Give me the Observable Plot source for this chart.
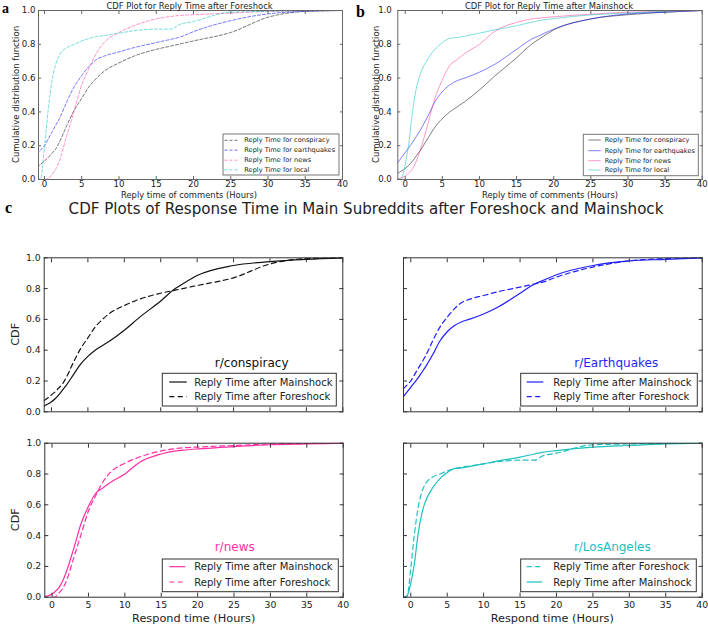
<!DOCTYPE html>
<html><head><meta charset="utf-8">
<script src="https://cdn.jsdelivr.net/npm/d3@7"></script>
<script src="https://cdn.jsdelivr.net/npm/@observablehq/plot@0.6"></script>
<style>
body{margin:0;background:#fff;}
#root{position:relative;width:708px;height:626px;overflow:hidden;background:#fff;font-family:"DejaVu Sans",sans-serif;}
#root > svg{position:absolute;background:none;}
</style></head><body><div id="root"></div>
<script>
// ---------- data ----------
const hours = [-1,-0.5,0,0.5,1,1.5,2,3,4,5,6,7,8,10,12,15,17,18,20,25,30,35,40];
const conspiracyMain  = [0.037,0.05,0.065,0.085,0.11,0.14,0.17,0.24,0.31,0.36,0.40,0.43,0.46,0.53,0.61,0.72,0.80,0.83,0.885,0.95,0.975,0.99,1.0];
const conspiracyFore  = [0.074,0.09,0.11,0.13,0.155,0.18,0.22,0.32,0.41,0.48,0.55,0.60,0.64,0.69,0.73,0.77,0.79,0.80,0.82,0.87,0.96,0.995,1.0];
const earthquakesMain = [0.10,0.13,0.16,0.19,0.22,0.255,0.29,0.37,0.46,0.52,0.56,0.585,0.60,0.635,0.68,0.77,0.83,0.85,0.89,0.95,0.98,0.99,1.0];
const earthquakesFore = [0.15,0.175,0.20,0.24,0.28,0.32,0.36,0.46,0.55,0.615,0.67,0.71,0.73,0.755,0.78,0.81,0.83,0.84,0.875,0.94,0.98,0.995,1.0];
const newsMain        = [0.005,0.01,0.02,0.04,0.065,0.11,0.17,0.32,0.48,0.59,0.675,0.71,0.745,0.80,0.875,0.93,0.95,0.955,0.963,0.978,0.99,0.995,1.0];
const newsFore        = [null,null,0,0.005,0.03,0.06,0.11,0.26,0.41,0.56,0.66,0.75,0.81,0.87,0.91,0.95,0.965,0.97,0.975,0.985,0.995,0.998,1.0];
const losAngelesMain  = [0,0.01,0.09,0.22,0.41,0.54,0.62,0.71,0.77,0.81,0.835,0.84,0.848,0.866,0.885,0.91,0.93,0.94,0.952,0.974,0.985,0.995,1.0];
const losAngelesFore  = [0,0.005,0.19,0.41,0.58,0.68,0.735,0.78,0.80,0.82,0.835,0.845,0.852,0.866,0.88,0.89,0.89,0.915,0.935,0.99,0.995,0.998,1.0];

const xTicks = [0,5,10,15,20,25,30,35,40];
const yTicks = [0,0.2,0.4,0.6,0.8,1.0];
const subredditNames = ["conspiracy","earthquakes","news","local"];
const subredditTitles = ["r/conspiracy","r/Earthquakes","r/news","r/LosAngeles"];
const lightColors = ["#000000","#0000ff","#ff3399","#00c0c0"];
const strongColors = ["#111111","#1f1fff","#ff2fa5","#20c0c0"];

// ---------- helpers ----------
const root = document.getElementById("root");
const FONT = '"DejaVu Sans", Verdana, sans-serif';
const fmt1 = d3.format(".1f");

function rows(values){ return hours.map((h,i)=>({h, p: values[i]})).filter(d => d.p != null); }

function panel(o){
  const marks = [
    ...o.lines.map(l => Plot.line(rows(l.values), {
      x:"h", y:"p", stroke:l.color, strokeOpacity:l.opacity ?? 1, strokeWidth:l.width,
      strokeDasharray:l.dash, curve:"monotone-x", clip:true
    })),
    Plot.frame({stroke:o.frame, strokeWidth:1}),
    Plot.axisX({anchor:"bottom", ticks:xTicks, tickSize:-o.tick, tickPadding:o.tick + o.xOff,
      tickFormat: o.showX ? (d => String(d)) : (() => ""), label:null, stroke:o.frame}),
    Plot.axisX({anchor:"top", ticks:xTicks, tickSize:-o.tick, tickPadding:0,
      tickFormat:() => "", label:null, stroke:o.frame}),
    Plot.axisY({anchor:"left", ticks:yTicks, tickSize:-o.tick, tickPadding:o.tick + o.yOff,
      tickFormat: o.showY ? fmt1 : (() => ""), label:null, stroke:o.frame}),
    Plot.axisY({anchor:"right", ticks:yTicks, tickSize:-o.tick, tickPadding:0,
      tickFormat:() => "", label:null, stroke:o.frame})
  ];
  const svg = Plot.plot({
    width:o.width, height:o.height,
    marginLeft:o.ml, marginRight:o.mr, marginTop:o.mt, marginBottom:o.mb,
    x:{domain:o.xDomain}, y:{domain:[0,1]},
    style:{fontSize:o.font+"px", fontFamily:FONT, color:"#222", background:"none", overflow:"visible"},
    marks
  });
  svg.style.left = o.left + "px";
  svg.style.top = o.top + "px";
  root.append(svg);
}

// ---------- panel a (foreshock) ----------
const foreSeries = [conspiracyFore, earthquakesFore, newsFore, losAngelesFore];
const mainSeries = [conspiracyMain, earthquakesMain, newsMain, losAngelesMain];

panel({left:0, top:0, width:354, height:200, ml:38, mr:12, mt:10, mb:21, xDomain:[-0.8,40],
  tick:3, xOff:1.5, yOff:3, font:8.6, frame:"#666", showX:true, showY:true,
  lines: foreSeries.map((v,i)=>({values:v, color:lightColors[i], opacity:0.55, width:1, dash:"3,2"}))});

// ---------- panel b (mainshock) ----------
panel({left:354, top:0, width:354, height:200, ml:43.3, mr:6.3, mt:10, mb:21, xDomain:[-1,40],
  tick:3, xOff:1.5, yOff:6, font:8.6, frame:"#666", showX:true, showY:true,
  lines: mainSeries.map((v,i)=>({values:v, color:lightColors[i], opacity:0.5, width:1}))});

// ---------- panel c ----------
const cPos = [
  {left:0,   top:240, width:354, height:190, ml:43.7, mr:11.7, mt:17.3, mb:18.7, showX:false, showY:true},
  {left:354, top:240, width:354, height:190, ml:49,   mr:6.3,  mt:17.3, mb:18.7, showX:false, showY:false},
  {left:0,   top:430, width:354, height:196, ml:44.3, mr:11.3, mt:12.7, mb:29.3, showX:true,  showY:true},
  {left:354, top:430, width:354, height:196, ml:49,   mr:6.3,  mt:12.7, mb:29.3, showX:true,  showY:false}
];
cPos.forEach((p,i) => {
  panel({...p, xDomain:[-1,40], tick:4, xOff:4, yOff:3.5, font:9.3, frame:"#333",
    lines:[
      {values:mainSeries[i], color:strongColors[i], width:1.2},
      {values:foreSeries[i], color:strongColors[i], width:1.2, dash:"5,3.5"}
    ]});
});

// ---------- overlay texts & legends ----------
const ov = d3.select(root).append("svg").attr("width",708).attr("height",626)
  .style("left","0px").style("top","0px").style("font-family",FONT);

function txt(x,y,s,size,o={}){
  const t = ov.append("text").attr("x",x).attr("y",y).text(s)
    .attr("font-size",size).attr("fill",o.fill||"#222")
    .attr("text-anchor",o.anchor||"middle").attr("dominant-baseline",o.base||"central");
  if (o.rotate) t.attr("transform",`rotate(-90,${x},${y})`);
  if (o.family) t.attr("font-family",o.family);
  if (o.weight) t.attr("font-weight",o.weight);
  return t;
}
function legend(box, entries, o){
  ov.append("rect").attr("x",box[0]).attr("y",box[1]).attr("width",box[2]-box[0]).attr("height",box[3]-box[1])
    .attr("fill","#fff").attr("stroke",o.stroke).attr("stroke-width",1);
  entries.forEach(e => {
    ov.append("line").attr("x1",o.lx0).attr("x2",o.lx1).attr("y1",e.y).attr("y2",e.y)
      .attr("stroke",e.color).attr("stroke-opacity",e.opacity ?? 1).attr("stroke-width",e.width)
      .attr("stroke-dasharray",e.dash || null);
    txt(o.tx, e.y, e.label, o.size, {anchor:"start"});
  });
}

// panel letters
const serif = '"Liberation Serif","Times New Roman",serif';
txt(2, 13, "a", 14, {anchor:"start", base:"auto", family:serif, weight:"bold", fill:"#000"});
txt(356, 17, "b", 16, {anchor:"start", base:"auto", family:serif, weight:"bold", fill:"#000"});
txt(5, 213, "c", 16, {anchor:"start", base:"auto", family:serif, weight:"bold", fill:"#000"});

// titles a, b
txt(189.5, 5.5, "CDF Plot for Reply Time after Foreshock", 8.4);
txt(549, 5.5, "CDF Plot for Reply Time after Mainshock", 8.4);
// axis labels a, b
txt(189, 194.5, "Reply time of comments (Hours)", 8.4);
txt(550, 194.5, "Reply time of comments (Hours)", 8.4);
txt(15.5, 94.5, "Cumulative distribution function", 8.5, {rotate:true});
txt(375.7, 94.5, "Cumulative distribution function", 8.5, {rotate:true});

// legends a, b
const legLabels = subredditNames.map(n => "Reply Time for " + n);
const legY = [140.3, 150.2, 160.2, 169.8];
legend([223,134,339,175], legLabels.map((l,i)=>({label:l, y:legY[i], color:lightColors[i], opacity:0.55, width:1, dash:"3,2"})),
  {stroke:"#777", lx0:224.5, lx1:237.5, tx:244.3, size:6.6});
legend([583.3,134.3,698.3,175.7], legLabels.map((l,i)=>({label:l, y:[140,150.7,160.7,170][i], color:lightColors[i], opacity:0.5, width:1})),
  {stroke:"#777", lx0:588.3, lx1:600.7, tx:604.7, size:6.55});

// title c
txt(366, 209.2, "CDF Plots of Response Time in Main Subreddits after Foreshock and Mainshock", 15.1);
// axis labels c
txt(16, 334.3, "CDF", 11.3, {rotate:true});
txt(16, 519.7, "CDF", 11.3, {rotate:true});
txt(193.7, 618, "Respond time (Hours)", 11.3);
txt(552.3, 618, "Respond time (Hours)", 11.3);

// subreddit labels
const subPos = [[251.7,362.7],[616.2,362.7],[234.7,546.7],[612.3,546.7]];
subredditTitles.forEach((s,i) => txt(subPos[i][0], subPos[i][1], s, 12, {fill: i===0 ? "#111" : strongColors[i]}));

// legends c
const mainLabel = "Reply Time after Mainshock", foreLabel = "Reply Time after Foreshock";
const cLeg = [
  {box:[162.3,373.3,336.3,406], lx0:169.3, lx1:186.7, tx:194.3, ys:[382,396.7]},
  {box:[520.7,373.3,697.3,406], lx0:526.7, lx1:543.3, tx:553.3, ys:[382,396.7]},
  {box:[162.3,559,338.3,591.7], lx0:169.3, lx1:185.3, tx:194.3, ys:[566.7,582]},
  {box:[520.7,559,696.3,591.7], lx0:526.7, lx1:542.3, tx:553.3, ys:[566.7,582]}
];
cLeg.forEach((L,i) => {
  const main = {label:mainLabel, color:strongColors[i], width:1.2};
  const fore = {label:foreLabel, color:strongColors[i], width:1.2, dash:"5,3.5"};
  const order = i === 3 ? [fore, main] : [main, fore];
  legend(L.box, order.map((e,k)=>({...e, y:L.ys[k]})), {stroke:"#333", lx0:L.lx0, lx1:L.lx1, tx:L.tx, size:10});
});
</script>
</body></html>
